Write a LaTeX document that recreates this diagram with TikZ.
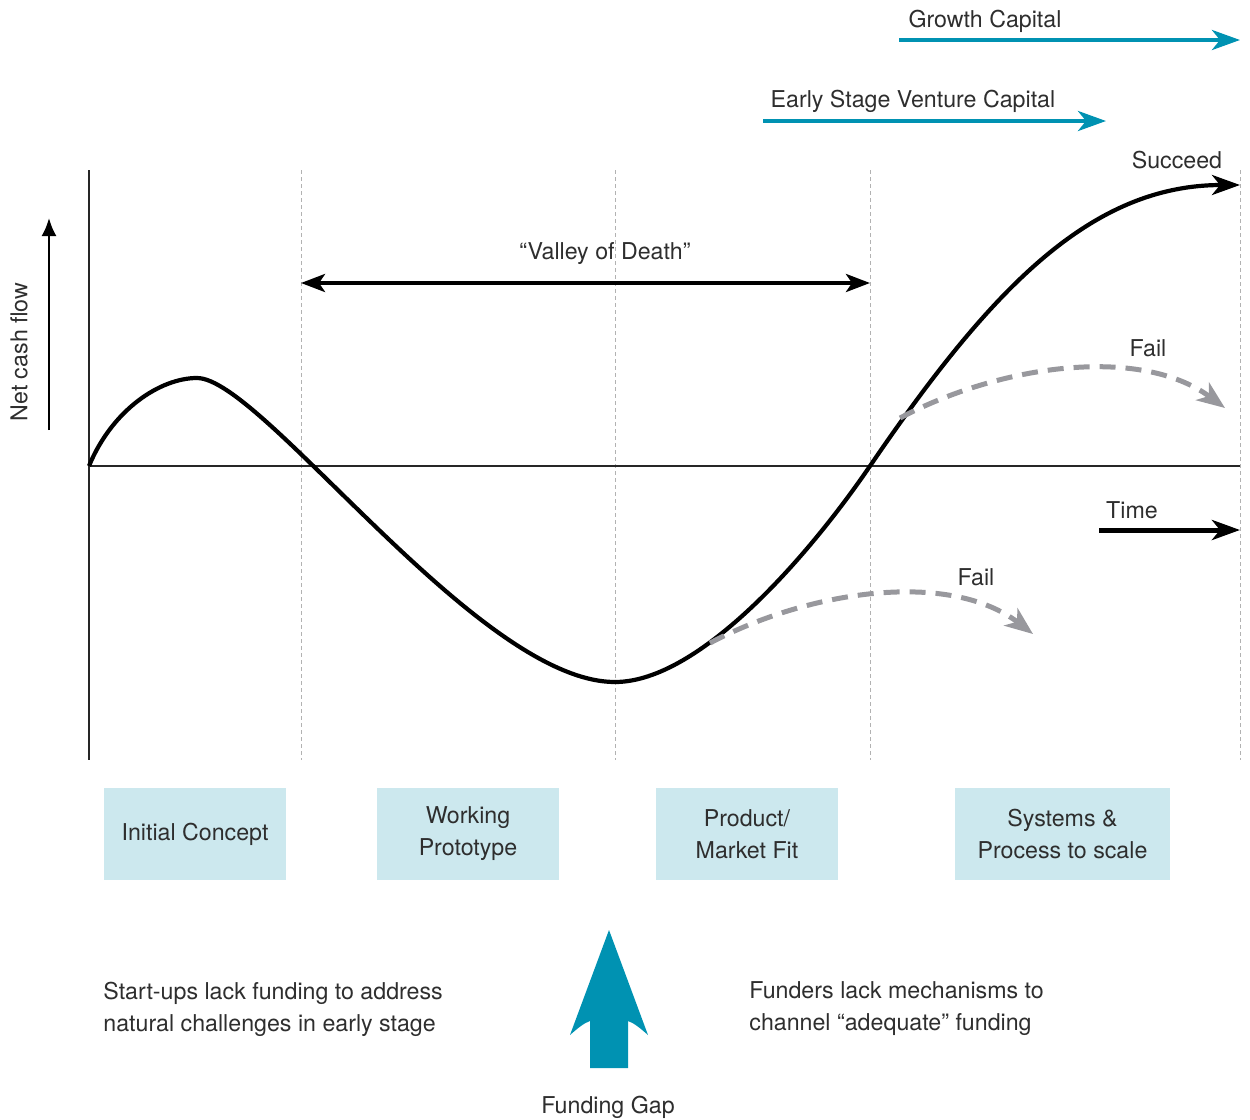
\documentclass[tikz,border=0pt]{standalone}
\usepackage{fontspec}
\setmainfont{TeX Gyre Heros}
\usetikzlibrary{arrows.meta}
\definecolor{fundteal}{RGB}{0,146,178}
\definecolor{stagefill}{RGB}{204,232,238}
\definecolor{failgrey}{RGB}{152,152,157}

\begin{document}
\begin{tikzpicture}[x=0.5pt, y=-0.5pt, >=Stealth,
  txt/.style={font=\fontsize{11.6}{16}\selectfont, text=black!82, inner sep=0pt},
  stage/.style={txt, fill=stagefill, minimum width=91pt, minimum height=46pt, align=center},
  guide/.style={black!30, line width=0.5pt, dash pattern=on 2pt off 1.5pt},
  capital/.style={fundteal, line width=2pt, -{Stealth[length=14pt, width=10pt, inset=4pt]}},
  failpath/.style={failgrey, line width=2.5pt, dash pattern=on 8pt off 5pt,
    -{Stealth[length=14pt, width=11pt, inset=4pt]}}]
  \useasboundingbox (0,0) rectangle (1250,1120);

  % axes and stage guides
  \coordinate (ytop) at (89,170);
  \coordinate (ybot) at (89,760);
  \coordinate (xleft) at (89,466);
  \coordinate (xright) at (1240,466);
  \foreach \gx in {301,615,870,1240}
    \draw[guide] (\gx,170) -- (\gx,760);
  \draw[line width=0.75pt, black!85] (ytop) -- (ybot);
  \draw[line width=0.75pt, black!85] (xleft) -- (xright);

  % net cash flow
  \coordinate (ncflow0) at (49,430);
  \coordinate (ncflow1) at (49,218);
  \draw[line width=1.2pt, -{Latex[length=9pt, width=7.5pt]}] (ncflow0) -- (ncflow1);
  \node[txt, rotate=90] (ncflowlbl) at (19,352) {Net cash flow};

  % the J-curve
  \coordinate (peak) at (197,378);
  \coordinate (trough) at (615,682);
  \coordinate (breakeven) at (870,466);
  \coordinate (succeed) at (1240,185);
  \draw[line width=2.1pt, -{Stealth[length=14pt, width=10pt, inset=4pt]}]
    (xleft) .. controls (112,410) and (160,378) .. (peak)
    .. controls (262,378) and (478,682) .. (trough)
    .. controls (700,682) and (810,554) .. (breakeven)
    .. controls (990,290) and (1090,185) .. (succeed);
  \node[txt] (succeedlbl) at (1177,160) {Succeed};

  % valley of death
  \coordinate (valleyl) at (301,283);
  \coordinate (valleyr) at (870,283);
  \draw[line width=2pt, {Stealth[length=12pt, width=9pt, inset=3pt]}-{Stealth[length=12pt, width=9pt, inset=3pt]}]
    (valleyl) -- (valleyr);
  \node[txt] (valleylbl) at (605,254) {“Valley of Death”};

  % failures
  \coordinate (fail1a) at (900,418);
  \coordinate (fail1b) at (1225,408);
  \coordinate (fail2a) at (710,643);
  \coordinate (fail2b) at (1033,634);
  \draw[failpath] (fail1a) .. controls (1000,365) and (1140,345) .. (fail1b);
  \draw[failpath] (fail2a) .. controls (810,590) and (950,570) .. (fail2b);
  \node[txt] (fail1lbl) at (1148,348) {Fail};
  \node[txt] (fail2lbl) at (976,577) {Fail};

  % time
  \coordinate (time0) at (1099,530);
  \coordinate (time1) at (1240,530);
  \draw[line width=2.5pt, -{Stealth[length=14pt, width=10pt, inset=4pt]}] (time0) -- (time1);
  \node[txt] (timelbl) at (1132,510) {Time};

  % capital
  \coordinate (growth0) at (899,40);
  \coordinate (growth1) at (1240,40);
  \coordinate (early0) at (763,121);
  \coordinate (early1) at (1106,121);
  \draw[capital] (growth0) -- (growth1);
  \draw[capital] (early0) -- (early1);
  \node[txt] (growthlbl) at (985,21) {Growth Capital};
  \node[txt] (earlylbl) at (913,101) {Early Stage Venture Capital};

  % stages
  \node[stage] (concept) at (195,834) {Initial Concept};
  \node[stage] (proto) at (468,834) {Working\\Prototype};
  \node[stage] (fit) at (747,834) {Product/\\Market Fit};
  \node[stage, minimum width=107.5pt] (scale) at (1062.5,834) {Systems \&\\Process to scale};

  % funding gap
  \fill[fundteal] (609,930) -- (648,1035) .. controls (640,1028) and (634,1023) .. (628,1021)
    -- (628,1068) -- (590,1068) -- (590,1021) .. controls (584,1023) and (578,1028) .. (570,1035) -- cycle;
  \node[txt] (gaplbl) at (608,1107) {Funding Gap};
  \node[txt, anchor=west, align=left] (startups) at (103,1009)
    {Start-ups lack funding to address\\natural challenges in early stage};
  \node[txt, anchor=west, align=left] (funders) at (749,1009)
    {Funders lack mechanisms to\\channel “adequate” funding};
\end{tikzpicture}
\end{document}
